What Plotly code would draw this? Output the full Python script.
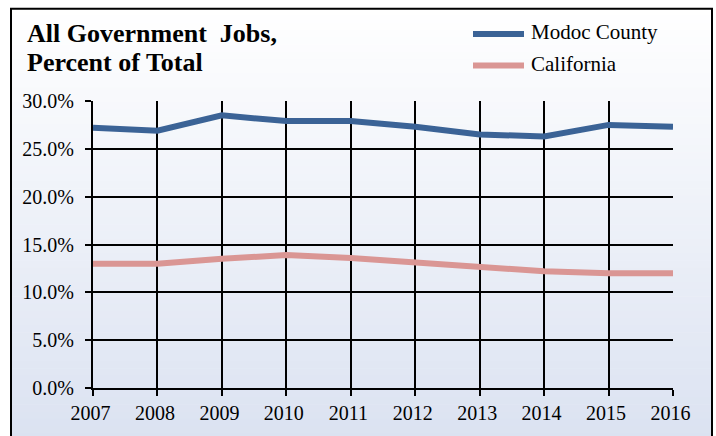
import plotly.graph_objects as go

years = [2007, 2008, 2009, 2010, 2011, 2012, 2013, 2014, 2015, 2016]
year_labels = [str(y) + "\u00a0" for y in years]
modoc = [27.2, 26.9, 28.5, 27.9, 27.9, 27.3, 26.5, 26.3, 27.5, 27.3]
california = [13.0, 13.0, 13.5, 13.9, 13.6, 13.1, 12.6, 12.2, 12.0, 12.0]
y_ticks = [0, 5, 10, 15, 20, 25, 30]
y_tick_labels = ["0.0%", "5.0%", "10.0%", "15.0%", "20.0%", "25.0%", "30.0%"]

W, H = 716, 436
L, R, T, B = 93, 673, 101, 392

def px(x):
    return (x - L) / (R - L)

def py(y):
    return (B - y) / (B - T)

MODOC_C = "#3b6396"
CA_C = "#da9694"
FONT = "Liberation Serif"

fig = go.Figure()
fig.add_trace(go.Scatter(x=years, y=modoc, mode="lines", name="Modoc County",
                         line=dict(color=MODOC_C, width=6), showlegend=False))
fig.add_trace(go.Scatter(x=years, y=california, mode="lines", name="California",
                         line=dict(color=CA_C, width=6), showlegend=False))

shapes = []
top, bot = 7, 445
n = 60
c0 = (255, 255, 255)
c1 = (219, 226, 241)
for i in range(n):
    ya = top + (bot - top) * i / n
    yb = top + (bot - top) * (i + 1) / n + 0.5
    t = (i + 0.5) / n
    col = tuple(round(c0[k] + (c1[k] - c0[k]) * t) for k in range(3))
    shapes.append(dict(type="rect", xref="paper", yref="paper",
                       x0=px(11), x1=px(712), y0=py(yb), y1=py(ya),
                       fillcolor="rgb(%d,%d,%d)" % col, line=dict(width=0),
                       layer="below"))
shapes.append(dict(type="rect", xref="paper", yref="paper",
                   x0=px(11), x1=px(712), y0=py(450), y1=py(7.5),
                   line=dict(color="black", width=2), fillcolor="rgba(0,0,0,0)",
                   layer="above"))
for yy, c in [(33, MODOC_C), (65, CA_C)]:
    shapes.append(dict(type="line", xref="paper", yref="paper",
                       x0=px(473), x1=px(524), y0=py(yy), y1=py(yy),
                       line=dict(color=c, width=6), layer="above"))

annotations = [
    dict(text="<b>All Government  Jobs,</b>", xref="paper", yref="paper",
         x=px(25), y=py(33), xanchor="left", yanchor="middle", showarrow=False,
         font=dict(family=FONT, size=26, color="black")),
    dict(text="<b>Percent of Total</b>", xref="paper", yref="paper",
         x=px(25), y=py(62), xanchor="left", yanchor="middle", showarrow=False,
         font=dict(family=FONT, size=26, color="black")),
    dict(text="Modoc County", xref="paper", yref="paper", x=px(529), y=py(31),
         xanchor="left", yanchor="middle", showarrow=False,
         font=dict(family=FONT, size=21, color="black")),
    dict(text="California", xref="paper", yref="paper", x=px(529), y=py(63),
         xanchor="left", yanchor="middle", showarrow=False,
         font=dict(family=FONT, size=21, color="black")),
]

fig.update_layout(
    width=W, height=H,
    margin=dict(l=L, r=W - R, t=T, b=H - B, pad=0),
    paper_bgcolor="white", plot_bgcolor="rgba(0,0,0,0)",
    shapes=shapes, annotations=annotations,
    font=dict(family=FONT, size=20, color="black"),
)
fig.update_xaxes(range=[2007, 2016], tickmode="array", tickvals=years,
                 ticktext=year_labels,
                 showgrid=True, gridcolor="black", gridwidth=2,
                 showline=True, linecolor="black", linewidth=2,
                 ticks="outside", ticklen=6, tickwidth=2, tickcolor="black",
                 zeroline=False, tickfont=dict(family=FONT, size=20, color="black"))
fig.update_yaxes(range=[0, 30], tickmode="array", tickvals=y_ticks, ticktext=y_tick_labels,
                 showgrid=True, gridcolor="black", gridwidth=2,
                 showline=True, linecolor="black", linewidth=2,
                 ticks="outside", ticklen=6, tickwidth=2, tickcolor="black",
                 ticklabelstandoff=7,
                 zeroline=False, tickfont=dict(family=FONT, size=20, color="black"))

fig.write_html("out.html", config=dict(displayModeBar=False),
               post_script="document.body.style.margin='0';document.body.style.overflow='hidden';")
